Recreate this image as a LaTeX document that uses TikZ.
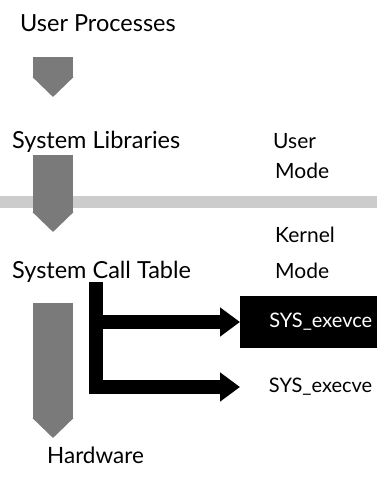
\documentclass[tikz,border=0pt]{standalone}
\usepackage{fontspec}
\setmainfont{Lato}
\usetikzlibrary{arrows.meta}

\begin{document}
\begin{tikzpicture}[x=1pt,y=-1pt,
    layer/.style={anchor=base west,inner sep=0pt,font=\fontsize{23.5}{27}\selectfont},
    modetext/.style={anchor=base west,inner sep=0pt,font=\fontsize{21}{25}\selectfont},
    blockarrow/.style={line width=40pt,black!52,-{Triangle[length=20pt,width=40pt]}},
    callline/.style={line width=14pt,black,-{Triangle[length=20pt,width=28pt]}},
    callbox/.style={anchor=west,minimum width=137pt,minimum height=52pt,inner sep=0pt,
      text width=127pt,align=right,font=\fontsize{20}{22}\selectfont}]

  \useasboundingbox (0,0) rectangle (377,485);

  % boundary between user and kernel mode
  \fill[black!20] (0,196) rectangle (377,208);

  \node[layer] (proc) at (20,31) {User Processes};
  \node[layer] (lib) at (12,148) {System Libraries};
  \node[layer] (sct) at (12,278) {System Call Table};
  \node[layer,font=\fontsize{22.5}{26}\selectfont] (hw) at (47,463) {Hardware};

  \node[modetext] (user) at (273,148) {User};
  \node[modetext] (umode) at (275,178) {Mode};
  \node[modetext] (kernel) at (275,242) {Kernel};
  \node[modetext] (kmode) at (275,278) {Mode};

  \draw[blockarrow] (53,57) -- (53,97);
  \draw[blockarrow] (53,155) -- (53,232);
  \draw[blockarrow] (53,303) -- (53,438);

  \node[callbox,fill=black,text=white] (exevce) at (240,322) {SYS\_exevce};
  \node[callbox] (execve) at (240,387) {SYS\_execve};

  \coordinate (split) at (96,282);
  \draw[callline] (split) |- (exevce.west);
  \draw[callline] (split) |- (execve.west);
\end{tikzpicture}
\end{document}
